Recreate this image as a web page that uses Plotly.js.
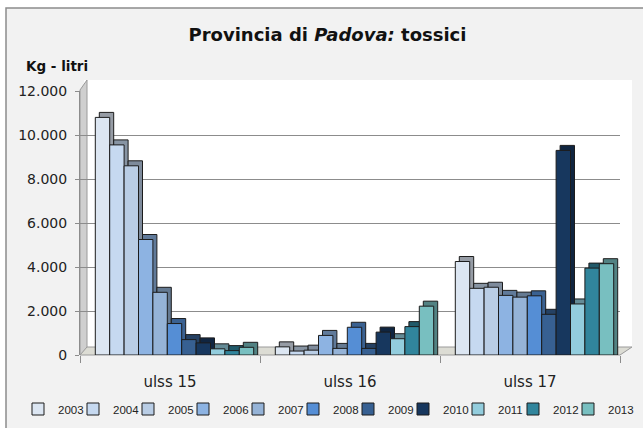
<!DOCTYPE html>
<html><head><meta charset="utf-8">
<script src="https://cdn.plot.ly/plotly-3.0.1.min.js"></script>
<style>html,body{margin:0;padding:0;background:#fff;} #chart{width:643px;height:428px;}</style>
</head><body><div id="chart"></div>
<script>
// ---- data ----
const categories = ['ulss 15', 'ulss 16', 'ulss 17'];
const years = ['2003','2004','2005','2006','2007','2008','2009','2010','2011','2012','2013'];
const ulss15 = [10800, 9550, 8600, 5250, 2850, 1430, 700, 550, 280, 200, 350];
const ulss16 = [370, 180, 220, 890, 300, 1260, 300, 1040, 740, 1290, 2220];
const ulss17 = [4250, 3030, 3080, 2710, 2630, 2690, 1850, 9300, 2320, 3950, 4150];
const yTicks = [0, 2000, 4000, 6000, 8000, 10000, 12000];

// ---- style ----
const colors = ['#DCE6F2','#C6D9F0','#B9CDE5','#8DB3E2','#95B3D7','#558ED5','#376092','#17375E','#93CDDD','#31859C','#78BFC0'];
function shade(hex, f){
  const n = parseInt(hex.slice(1), 16);
  const r = Math.round(((n>>16)&255)*f), g = Math.round(((n>>8)&255)*f), b = Math.round((n&255)*f);
  return 'rgb(' + r + ',' + g + ',' + b + ')';
}
const L = 80, R = 620, T = 91, B = 355;
function px(x){ return (x - L) / (R - L); }
function py(y){ return (B - y) / (B - T); }
const BAR_W = 0.08, OFF0 = -0.415, DX = 4 / 180, DY = 5 / (B - T) * 12000;
const edge = {color: '#1c1c1c', width: 1};
const SPLIT = 6;
const LEG_X0 = 18, LEG_STEP = 55;

const traces = [];
years.forEach(function(yr, i){
  const vals = [ulss15[i], ulss16[i], ulss17[i]];
  traces.push({type: 'bar', x: categories, y: vals.map(function(v){ return v + DY; }),
    offset: OFF0 + i * BAR_W + DX, width: BAR_W,
    marker: {color: shade(colors[i], 0.68), line: edge}, showlegend: false, hoverinfo: 'skip'});
  const last = (i === SPLIT - 1) || (i === years.length - 1);
  traces.push({type: 'bar', name: yr, x: categories, y: vals,
    offset: OFF0 + i * BAR_W, width: BAR_W,
    legend: i < SPLIT ? 'legend' : 'legend2', legendwidth: last ? 40 : LEG_STEP - 45,
    marker: {color: colors[i], line: edge}});
});

const legendBase = {orientation: 'h', xref: 'container', yref: 'container', xanchor: 'left',
  y: 1 - 409 / 428, yanchor: 'middle', font: {family: 'Liberation Sans', size: 11.5, color: '#222'},
  entrywidthmode: 'pixels', bgcolor: 'rgba(0,0,0,0)', traceorder: 'normal'};

const layout = {
  width: 643, height: 428,
  margin: {l: L, r: 643 - R, t: T, b: 428 - B, pad: 0},
  paper_bgcolor: '#ffffff', plot_bgcolor: 'rgba(0,0,0,0)',
  barmode: 'overlay', separators: ',.',
  font: {family: 'DejaVu Sans', color: '#222'},
  title: {text: '<b>Provincia di <i>Padova:</i> tossici</b>', font: {family: 'DejaVu Sans', size: 18, color: '#111'},
    xref: 'container', x: 327.5 / 643, xanchor: 'center', yref: 'container', y: 1 - 35 / 428, yanchor: 'middle'},
  xaxis: {type: 'category', range: [-0.5, 2.5], tickson: 'boundaries', ticks: 'outside', ticklen: 7,
    tickcolor: '#8c8c8c', showline: false, showgrid: false, zeroline: false,
    tickfont: {family: 'DejaVu Sans', size: 15, color: '#222'}, ticklabelstandoff: 16, fixedrange: true},
  yaxis: {range: [0, 12000], tickvals: yTicks, tickformat: ',d', ticks: 'outside', ticklen: 4,
    tickcolor: '#8c8c8c', showline: true, linecolor: '#8c8c8c', showgrid: true, gridcolor: '#8c8c8c', gridwidth: 1,
    zeroline: false, tickfont: {family: 'DejaVu Sans', size: 14, color: '#222'}, ticklabelstandoff: 5, fixedrange: true},
  legend: Object.assign({}, legendBase, {x: LEG_X0 / 643}),
  legend2: Object.assign({}, legendBase, {x: (LEG_X0 + SPLIT * LEG_STEP) / 643}),
  shapes: [
    {type: 'rect', xref: 'paper', yref: 'paper', x0: px(6), x1: px(720), y0: py(8), y1: py(520),
      fillcolor: '#f2f2f2', line: {color: '#8c8c8c', width: 1.5}, layer: 'below'},
    {type: 'rect', xref: 'paper', yref: 'paper', x0: px(84), x1: px(632), y0: py(348), y1: py(80),
      fillcolor: '#ffffff', line: {width: 0}, layer: 'below'},
    {type: 'path', xref: 'paper', yref: 'paper',
      path: 'M' + px(80) + ',' + py(355) + ' L' + px(80) + ',' + py(90) + ' L' + px(87) + ',' + py(80) + ' L' + px(87) + ',' + py(348) + ' Z',
      fillcolor: '#cfcfcf', line: {color: '#9a9a9a', width: 1}, layer: 'below'},
    {type: 'path', xref: 'paper', yref: 'paper',
      path: 'M' + px(80) + ',' + py(355) + ' L' + px(620) + ',' + py(355) + ' L' + px(632) + ',' + py(347) + ' L' + px(87) + ',' + py(347) + ' Z',
      fillcolor: '#dcdcd4', line: {color: '#9a9a9a', width: 1}, layer: 'below'}
  ],
  annotations: [
    {text: '<b>Kg - litri</b>', xref: 'paper', yref: 'paper', x: px(24), y: py(66), xanchor: 'left', yanchor: 'middle',
      showarrow: false, font: {family: 'DejaVu Sans', size: 13.5, color: '#111'}}
  ]
};

Plotly.newPlot('chart', traces, layout, {displayModeBar: false, staticPlot: true});
</script>
</body></html>
